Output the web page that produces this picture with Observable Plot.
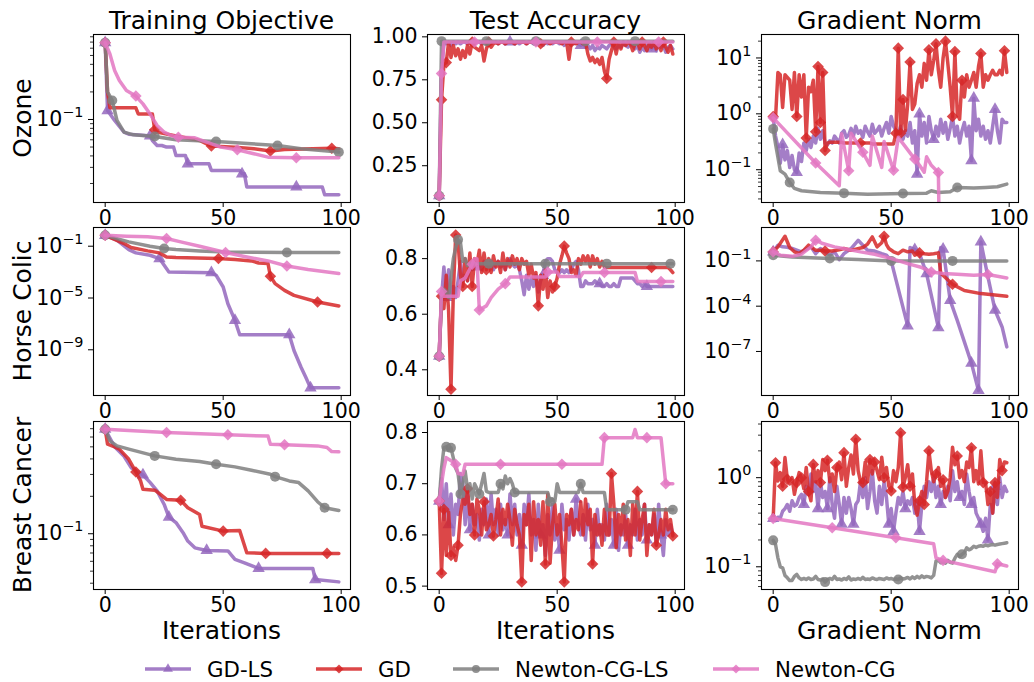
<!DOCTYPE html>
<html><head><meta charset="utf-8">
<script src="https://cdn.jsdelivr.net/npm/d3@7"></script>
<script src="https://cdn.jsdelivr.net/npm/@observablehq/plot@0.6"></script>
<style>
body{margin:0;background:#fff;}
#fig{position:relative;width:1034px;height:682px;background:#fff;overflow:hidden;font-family:"DejaVu Sans",sans-serif;color:#000}
#fig svg.panel{position:absolute}
#overlay{position:absolute;left:0;top:0;pointer-events:none}
</style></head>
<body><div id="fig"></div>
<script>
// ---------- labels ----------
const methodNames = ["GD-LS", "GD", "Newton-CG-LS", "Newton-CG"];
const colTitles = ["Training Objective", "Test Accuracy", "Gradient Norm"];
const rowLabels = ["Ozone", "Horse Colic", "Breast Cancer"];
const xLabels = ["Iterations", "Iterations", "Gradient Norm"];
const xTicks = [0, 50, 100];

// ---------- Ozone ----------
const ozObjGDLS = [[0,0.69,1],[1,0.125,1],[4,0.0975],[8,0.0727],[10,0.069],[17,0.0669],[19,0.066,1],[20,0.059],[22,0.052],[24,0.052],[26,0.0499],[29,0.0499],[30,0.0405],[34,0.0405],[35,0.0328,1],[44,0.0328],[45,0.0278],[57,0.0278],[58,0.0255,1],[59,0.0255],[60,0.0183],[81,0.0183,1],[92,0.0183],[93,0.0151],[99,0.0151]];
const ozObjGD = [[0,0.69,1],[1,0.2],[2,0.134],[13,0.134],[14,0.115],[20,0.115],[21,0.077,1],[22,0.0727],[29,0.0669],[33,0.0641],[40,0.059],[45,0.0512,1],[55,0.0499],[63,0.0479],[70,0.0452,1],[76,0.0471],[96,0.0486,1],[99,0.0479]];
const ozObjNCGLS = [[0,0.69,1],[1,0.2],[3,0.161,1],[5,0.0975],[8,0.0727],[12,0.068],[21,0.0653,1],[30,0.06],[47,0.0575,1],[62,0.0543],[73,0.052,1],[83,0.0479],[99,0.044,1]];
const ozObjNCG = [[0,0.69,1],[2,0.52],[4,0.343],[6,0.266],[9,0.207],[13,0.18,1],[16,0.148],[19,0.115],[22,0.086],[25,0.0727],[28,0.0669],[31,0.0641,1],[38,0.063],[43,0.0566],[49,0.0499],[56,0.0467,1],[63,0.0422],[69,0.0388],[81,0.0382,1],[99,0.0382]];

const ozAccGDLS = [0.075,0.8,0.96,
 0.96,0.97,0.95,0.97,0.96,0.97,0.96,0.97,0.97,0.96,0.97,0.97,0.96,0.97,0.97,0.96,0.97,0.96,
 0.97,0.96,0.97,0.97,0.96,0.97,0.97,0.96,0.97,0.97,0.97,0.96,0.97,0.96,0.97,0.97,0.96,0.97,0.97,0.96,
 0.97,0.96,0.97,0.95,0.97,0.96,0.97,0.96,0.97,0.97,0.96,0.97,0.95,0.97,0.96,0.97,0.96,0.97,0.96,0.95,
 0.96,0.94,0.95,0.93,0.95,0.92,0.94,0.93,0.95,0.94,0.93,0.95,0.96,0.94,0.93,0.95,0.94,0.96,0.95,0.94,
 0.96,0.95,0.93,0.95,0.91,0.94,0.92,0.95,0.96,0.93,0.95,0.92,0.96,0.94,0.95,0.91,0.94,0.95,0.93];
const ozAccGDLSMarks = [0,30,60,90];
const ozAccGD = [0.075,0.634,0.84,0.85,0.97,0.88,0.95,0.89,0.93,0.87,0.92,0.88,0.95,0.9,0.97,0.94,0.93,0.92,0.95,0.86,0.93,0.97,0.94,0.96,0.97,0.96,0.97,
 0.97,0.96,0.97,0.97,0.97,0.96,0.97,0.97,0.97,0.97,0.96,0.97,0.97,0.97,0.97,0.97,0.96,0.97,0.97,0.97,0.96,0.97,0.97,0.97,0.97,0.96,0.97,0.97,
 0.87,0.97,0.97,0.96,0.97,0.97,0.96,0.97,0.9,0.86,0.88,0.85,0.87,0.84,0.88,0.8,0.757,0.87,0.92,0.97,0.9,0.97,0.93,0.97,0.95,0.97,
 0.96,0.92,0.96,0.97,0.93,0.97,0.95,0.92,0.96,0.94,0.97,0.93,0.96,0.92,0.97,0.94,0.91,0.95,0.9];
const ozAccGDMarks = [0,1,3,14,21,43,56,71,74,86,95];
const ozAccNCGLS = [[0,0.075,1],[1,0.975,1],[20,0.975,1],[41,0.975,1],[62,0.975,1],[83,0.975,1],[99,0.975]];
const ozAccNCG = [[0,0.075,1],[1,0.786,1],[2,0.97],[15,0.97,1],[41,0.97,1],[67,0.97,1],[93,0.97,1],[99,0.97]];

const ozGradGDLS = [0.85,0.4,0.26,0.13,0.28,0.15,0.22,0.11,0.18,0.1,0.089,
 0.2,0.14,0.3,0.22,0.35,0.25,0.4,0.3,0.55,0.35,0.5,0.3,
 0.28,0.33,0.3,0.4,0.35,0.3,0.45,0.5,0.38,0.42,0.55,0.4,0.6,0.45,0.5,0.38,0.6,0.48,0.4,0.65,0.45,0.5,0.6,0.4,0.55,0.7,0.45,0.9,0.6,0.5,
 0.45,0.6,0.35,0.5,0.4,0.7,0.3,0.5,0.083,1.0,0.4,0.7,0.3,0.9,0.5,0.35,0.6,0.4,0.8,0.45,0.7,0.35,0.55,0.9,0.4,0.6,0.3,0.5,0.7,0.4,0.6,0.145,1.9,0.5,0.8,0.4,0.6,0.35,0.5,0.3,0.6,1.2,0.5,0.3,0.8,0.7,
 0.7];
const ozGradGDLSMarks = [4,10,61,62,68,84,85,94];
const ozGradGD = [0.9,0.85,5.5,5,1.3,5,4.5,4,1.2,5.5,0.9,5,2,5,0.37,3,2.5,4,0.48,7,0.7,5.5,0.22,0.3,
 0.31,0.31,0.31,0.31,0.31,0.31,0.3,0.3,0.3,0.3,0.3,0.3,0.3,0.3,0.3,0.3,0.3,0.3,0.29,0.29,0.29,0.29,0.29,0.29,0.29,0.29,0.29,0.29,
 0.45,15,0.45,1.8,0.5,1.5,8.5,1.2,1.5,3.5,5,3,8,4,14,5,9,18,6,3,10,20,8,3,0.9,13,1,0.8,4,2,5,3,4,5.5,3,7,12,3,5,4,5,6,5,5,6,5,13.5,5.5];
const ozGradGDMarks = [0,10,14,18,19,20,21,22,37,52,53,54,55,58,66,69,73,76,77,80,88,98];
const ozGradNCGLS = [[0,0.538,1],[1,0.289],[2,0.167],[3,0.096],[5,0.0836],[7,0.0592,1],[9,0.0462],[12,0.042],[20,0.0392],[30,0.0381,1],[40,0.0365],[55,0.0376,1],[65,0.0381],[67,0.042],[70,0.0392],[75,0.0405],[78,0.0482,1],[85,0.047],[90,0.0482],[95,0.0495],[99,0.0553]];
const ozGradNCG = [[0,0.847,1],[18,0.132,1],[28,0.0517],[29,0.44],[32,0.096,1],[33,0.45],[38,0.205,1],[41,0.12],[42,0.4],[46,0.11],[47,0.32],[51,0.098,1],[53,0.38],[60,0.155,1],[62,0.12],[64,0.09],[65,0.17],[67,0.12],[70,0.0895,1],[71,0.0001]];

// ---------- Horse Colic ----------
const hcObjGDLS = [[0,0.693,1],[5,0.29],[10,0.055],[13,0.0305],[19,0.0201],[23,0.0111,1],[27,0.00103],[45,0.00091,1],[47,0.00057],[50,7.1e-5],[52,3.6e-6],[55,1.87e-7,1],[57,1.45e-8],[78,1.45e-8,1],[80,8.9e-10],[83,4.5e-11],[85,7.6e-12],[87,1.15e-12,1],[99,1.15e-12]];
const hcObjGD = [[0,0.693,1],[4,0.33],[8,0.16],[11,0.079],[18,0.0436],[23,0.0305],[26,0.0149],[30,0.0133],[48,0.0111,1],[55,0.0093],[62,0.0073],[65,0.0051],[69,0.00455],[70,4.8e-4,1],[72,1.29e-4],[76,3.9e-5],[80,1.6e-5],[90,4.9e-6,1],[99,2.4e-6]];
const hcObjNCGLS = [[0,0.693,1],[5,0.39],[10,0.216],[19,0.1],[25,0.066,1],[30,0.055],[40,0.0436],[51,0.0364],[77,0.0323,1],[99,0.0323]];
const hcObjNCG = [[0,0.693,1],[9,0.59],[18,0.53],[26,0.39,1],[32,0.216],[40,0.1],[51,0.0323,1],[60,0.0149],[69,0.0073],[77,0.003,1],[86,0.0016],[99,7.7e-4]];

const hcAccGDLS = [0.449,0.66,0.77,0.66,0.76,0.66,0.70,0.66,0.72,0.79,
 0.72,0.74,0.72,0.78,0.76,0.79,0.77,0.78,0.76,0.79,
 0.78,0.77,0.79,0.76,0.78,0.79,0.77,0.78,0.76,0.79,
 0.80,0.78,0.77,0.78,0.76,0.72,0.67,0.74,0.69,0.73,
 0.70,0.74,0.68,0.72,0.74,0.79,0.80,0.80,0.79,0.76,
 0.75,0.75,0.76,0.75,0.76,0.75,0.76,0.78,0.79,0.76,
 0.70,0.70,0.72,0.71,0.71,0.71,0.72,0.71,0.71,0.70,
 0.70,0.71,0.70,0.70,0.71,0.70,0.70,0.73,0.73,0.73,
 0.73,0.73,0.73,0.72,0.71,0.71,0.70,0.71,0.70,0.70,
 0.70,0.70,0.70,0.70,0.70,0.70,0.70,0.70,0.70,0.70];
const hcAccGDLSMarks = [0,3,16,44,68,88];
const hcAccGD = [0.449,0.665,0.62,0.74,0.61,0.33,0.68,0.885,0.86,0.74,
 0.70,0.80,0.72,0.82,0.70,0.80,0.78,0.83,0.75,0.82,
 0.76,0.80,0.75,0.81,0.77,0.79,0.75,0.82,0.76,0.80,
 0.77,0.81,0.78,0.80,0.76,0.80,0.78,0.79,0.74,0.78,
 0.73,0.75,0.63,0.74,0.69,0.76,0.66,0.72,0.68,0.70,
 0.73,0.78,0.81,0.845,0.82,0.80,0.75,0.76,0.74,0.80,
 0.78,0.81,0.79,0.81,0.77,0.81,0.78,0.80,0.77,0.79,
 0.77,0.768,0.768,0.768,0.768,0.768,0.768,0.768,0.768,0.768,
 0.768,0.768,0.768,0.768,0.768,0.768,0.768,0.768,0.768,0.768,
 0.768,0.768,0.768,0.768,0.768,0.768,0.768,0.768,0.76,0.75];
const hcAccGDMarks = [0,1,5,7,10,14,20,42,49,53,90];
const hcAccNCGLS = [[0,0.449,1],[1,0.67],[2,0.69],[3,0.68],[4,0.66],[5,0.73],[6,0.80],[7,0.84],[8,0.868,1],[9,0.86],[10,0.79],[11,0.80],[12,0.775],[13,0.782],[21,0.782,1],[45,0.782,1],[71,0.782,1],[98,0.782,1],[99,0.782]];
const hcAccNCG = [[0,0.449,1],[1,0.682,1],[2,0.665],[8,0.665],[9,0.72],[11,0.73],[14,0.78,1],[15,0.8],[16,0.8],[17,0.615,1],[20,0.63],[22,0.66],[25,0.69],[28,0.71,1],[30,0.734],[45,0.734],[46,0.752,1],[50,0.752],[51,0.736],[60,0.736],[61,0.75],[70,0.75,1],[83,0.75],[84,0.718],[94,0.718,1],[99,0.718]];

const hcGradGDLS = [[0,0.395,1],[2,1.1],[4,0.85],[6,0.8],[8,0.66],[10,0.51],[12,0.4],[14,0.6],[16,0.85],[18,0.3],[20,0.66],[22,0.4],[24,0.24],[26,0.4],[28,0.12],[30,0.3],[33,0.66],[36,2.3],[38,1.1],[40,0.51],[43,0.45],[46,0.3],[48,0.24],[50,0.1],[57,5e-6,1],[58,0.77],[60,0.56,1],[62,0.3],[65,0.0145,1],[70,3.8e-6,1],[71,0.77],[72,0.6,1],[75,2.45e-4,1],[78,1.15e-5],[84,1.7e-8,1],[87,2.6e-10,1],[88,1.8,1],[91,8.7e-3],[94,5.4e-5,1],[97,4.2e-6],[99,2e-7]];
const hcGradGD = [[0,0.395,1],[2,0.85],[5,4.3],[7,0.77],[9,0.4],[11,0.31],[13,0.51],[15,1.1],[17,0.66],[18,0.5],[20,0.51],[22,0.45,1],[25,0.45],[28,0.55],[30,0.66],[33,0.51],[35,0.6],[38,0.77],[40,1.3],[42,3.9],[44,0.85],[46,1.6],[47,4.3,1],[48,1.2],[49,0.66],[51,0.4],[53,0.3],[55,0.51],[57,0.4],[59,0.45],[60,0.24],[62,0.34,1],[64,0.3],[66,0.28],[68,0.3],[70,0.34],[71,0.015],[76,0.0028,1],[81,0.0011],[88,6.8e-4],[99,4.5e-4]];
const hcGradNCGLS = [[0,0.238,1],[8,0.184],[24,0.143,1],[36,0.123],[50,0.1,1],[76,0.1,1],[99,0.1]];
const hcGradNCG = [[0,0.395,1],[3,0.238],[8,0.2],[12,0.277],[16,0.85],[18,2.35,1],[21,1.41],[26,0.85],[32,0.565],[37,0.395],[43,0.277],[50,0.143],[57,0.0665],[63,0.0362],[67,0.0186,1],[72,0.0144],[78,0.013],[85,0.0112],[91,0.0124,1],[99,0.0074]];

// ---------- Breast Cancer ----------
const bcObjGDLS = [[0,0.693,1],[4,0.5],[8,0.42],[11,0.34],[16,0.297,1],[19,0.259],[22,0.221],[25,0.172],[27,0.136,1],[30,0.123],[33,0.102],[35,0.0873],[38,0.077],[43,0.0734,1],[52,0.0727],[55,0.0621],[59,0.0584],[65,0.0525,1],[88,0.0525],[89,0.0428,1],[99,0.041]];
const bcObjGD = [[0,0.693,1],[1,0.525],[4,0.5],[6,0.479],[10,0.397],[13,0.314,1],[15,0.266],[16,0.228],[21,0.224],[23,0.21],[26,0.189],[32,0.186,1],[35,0.162],[40,0.143],[41,0.115],[50,0.105,1],[57,0.106],[60,0.0703],[68,0.0695,1],[94,0.0695,1],[99,0.0695]];
const bcObjNCGLS = [[0,0.693,1],[2,0.558],[5,0.509],[10,0.479],[21,0.423,1],[30,0.397],[40,0.381],[47,0.362,1],[55,0.345],[62,0.324],[70,0.301],[72,0.288,1],[78,0.266],[82,0.258],[86,0.221],[90,0.181],[93,0.162,1],[99,0.154]];
const bcObjNCG = [[0,0.693,1],[26,0.653,1],[52,0.625,1],[69,0.61],[70,0.525],[76,0.519,1],[90,0.509],[94,0.494],[96,0.458],[99,0.456]];

const bcAccGDLS = [0.666,0.71,0.63,0.70,0.62,0.68,0.60,0.66,0.64,0.72,
 0.70,0.62,0.69,0.61,0.66,0.62,0.64,0.59,0.65,0.62,
 0.67,0.60,0.68,0.62,0.65,0.60,0.66,0.61,0.63,0.60,
 0.68,0.62,0.66,0.60,0.64,0.58,0.66,0.62,0.68,0.60,
 0.63,0.57,0.66,0.60,0.62,0.56,0.64,0.60,0.66,0.59,
 0.62,0.57,0.66,0.61,0.63,0.59,0.65,0.60,0.67,0.62,
 0.60,0.64,0.59,0.66,0.61,0.63,0.58,0.65,0.60,0.62,
 0.59,0.66,0.60,0.63,0.58,0.65,0.57,0.62,0.60,0.64,
 0.58,0.62,0.60,0.65,0.59,0.63,0.60,0.66,0.59,0.62,
 0.60,0.64,0.58,0.66,0.60,0.56,0.63,0.60,0.62,0.60];
const bcAccGDLSMarks = [0,4,13,21,29,35,43,51,58,66,74,80,88,94];
const bcAccGD = [0.666,0.525,0.65,0.56,0.645,0.56,0.575,0.55,0.58,0.64,
 0.67,0.66,0.69,0.64,0.66,0.60,0.67,0.65,0.60,0.665,
 0.61,0.62,0.64,0.598,0.63,0.67,0.60,0.65,0.62,0.66,
 0.63,0.58,0.65,0.62,0.60,0.508,0.64,0.62,0.66,0.55,
 0.665,0.60,0.63,0.58,0.665,0.543,0.68,0.545,0.62,0.66,
 0.60,0.64,0.58,0.508,0.64,0.62,0.65,0.60,0.63,0.61,
 0.665,0.60,0.67,0.62,0.65,0.543,0.64,0.60,0.62,0.58,
 0.65,0.60,0.60,0.72,0.66,0.575,0.64,0.60,0.66,0.59,
 0.63,0.56,0.66,0.60,0.685,0.59,0.63,0.66,0.56,0.62,
 0.60,0.65,0.58,0.60,0.63,0.60,0.65,0.61,0.63,0.598];
const bcAccGDMarks = [0,1,2,5,8,12,15,19,23,35,45,53,65,73,84,92,99];
const bcAccNCGLS = [0.666,0.73,0.77,0.772,0.765,0.77,0.75,0.73,0.72,0.68,
 0.70,0.725,0.69,0.70,0.67,0.70,0.69,0.68,0.70,0.72,
 0.685,0.683,0.683,0.683,0.683,0.683,0.70,0.69,0.715,0.70,
 0.71,0.70,0.683,0.683,0.683,0.683,0.683,0.683,0.683,0.683,
 0.683,0.683,0.683,0.683,0.683,0.683,0.683,0.665,0.67,0.665,
 0.70,0.683,0.683,0.683,0.683,0.683,0.683,0.683,0.683,0.683,
 0.70,0.683,0.683,0.683,0.683,0.683,0.683,0.683,0.683,0.683,
 0.683,0.649,0.649,0.649,0.649,0.649,0.649,0.649,0.649,0.649,
 0.665,0.665,0.665,0.665,0.665,0.649,0.649,0.649,0.649,0.649,
 0.649,0.649,0.649,0.649,0.649,0.649,0.649,0.649,0.649,0.649];
const bcAccNCGLSMarks = [3,5,9,17,26,32,47,60,79,99];
const bcAccNCG = [[0,0.666,1],[1,0.70],[2,0.73],[3,0.751],[5,0.745],[7,0.738,1],[8,0.72],[10,0.718],[11,0.738],[26,0.738,1],[52,0.738,1],[69,0.738],[70,0.79,1],[82,0.79],[83,0.806],[84,0.79],[88,0.79,1],[94,0.79],[96,0.70,1],[99,0.70]];

const bcGradGDLS = [0.35,0.33,0.36,0.35,0.42,0.45,0.5,0.42,0.55,0.48,
 0.5,0.6,0.65,0.5,0.8,0.65,1.1,0.7,0.9,0.45,
 0.9,0.6,0.7,0.45,1.0,0.5,0.35,0.8,0.5,0.3,
 0.6,0.4,0.6,0.45,0.3,0.5,0.55,0.9,0.6,1.0,
 0.45,0.7,1.2,0.55,0.4,0.8,0.5,0.9,0.6,0.3,
 0.45,0.25,0.4,0.6,0.5,0.7,0.45,0.55,0.5,0.6,
 0.4,0.55,0.25,0.5,0.8,0.6,0.9,0.7,1.0,0.6,
 0.8,0.5,0.7,0.6,0.8,0.55,1.2,0.7,0.9,0.6,
 0.7,0.5,1.1,0.7,0.5,0.6,0.4,0.35,0.3,0.25,
 0.35,0.2,0.5,0.4,0.8,0.5,1.0,0.6,0.8,0.7];
const bcGradGDLSMarks = [0,13,19,23,29,34,49,51,56,62,71,79,84,88,91,94];
const bcGradGD = [0.35,1.47,0.92,1.14,0.8,1.68,0.96,0.85,1.0,0.65,
 0.88,1.14,1.0,0.75,1.3,0.7,0.55,1.41,0.9,1.2,
 0.88,1.6,1.2,1.57,0.9,1.1,0.7,1.3,1.5,0.95,
 1.91,0.8,1.3,1.8,1.1,2.7,1.2,0.9,0.88,1.5,
 0.9,1.6,1.1,1.5,1.2,0.95,1.7,1.0,1.3,0.8,
 0.71,1.2,0.9,1.3,3.2,0.78,1.0,1.4,0.8,1.1,
 0.5,0.38,0.55,0.7,0.5,0.9,2.0,1.2,0.9,1.1,
 1.3,0.8,0.95,0.6,0.7,1.0,2.2,1.4,1.75,1.0,
 1.2,0.9,1.5,1.3,2.17,0.9,1.2,0.85,2.0,0.88,
 0.88,0.5,0.7,0.4,0.88,0.6,1.6,1.2,1.5,1.47];
const bcGradGDMarks = [1,4,6,10,12,15,17,20,23,27,30,35,38,41,43,47,50,54,55,58,62,64,66,69,72,78,84,89,92,94,97];
const bcGradNCGLS = [0.198,0.178,0.126,0.1,0.0975,0.08,0.0752,0.07,0.0702,0.078,
 0.082,0.075,0.072,0.074,0.072,0.075,0.072,0.073,0.078,0.072,
 0.071,0.073,0.0673,0.072,0.074,0.072,0.078,0.072,0.073,0.071,
 0.074,0.072,0.077,0.071,0.073,0.072,0.074,0.072,0.076,0.072,
 0.073,0.072,0.075,0.073,0.072,0.074,0.073,0.072,0.075,0.073,
 0.074,0.072,0.073,0.072,0.075,0.073,0.074,0.076,0.073,0.077,
 0.074,0.078,0.075,0.079,0.076,0.078,0.077,0.075,0.08,0.116,
 0.118,0.111,0.113,0.11,0.118,0.112,0.11,0.125,0.138,0.13,
 0.138,0.144,0.163,0.155,0.16,0.17,0.165,0.17,0.172,0.17,
 0.175,0.172,0.176,0.178,0.175,0.178,0.18,0.182,0.184,0.186];
const bcGradNCGLSMarks = [0,22,53,80];
const bcGradNCG = [[0,0.349,1],[25,0.274,1],[52,0.212,1],[68,0.181],[69,0.126],[72,0.118,1],[94,0.088],[95,0.108,1],[99,0.102]];

// ---------- ticks ----------
const accTicksOz = [0.25, 0.5, 0.75, 1.0];
const accTicksHc = [0.4, 0.6, 0.8];
const accTicksBc = [0.5, 0.6, 0.7, 0.8];

// ---------- styles ----------
const COLORS = ["#9467bd", "#d62728", "#7f7f7f", "#e377c2"];
const SYMBOLS = ["triangle", "diamond2", "circle", "diamond2"];
const RADII = [4.6, 5.2, 5.0, 5.2];
const FONT = "DejaVu Sans";
const frameLeft = [93, 427, 761];
const frameTop = [34, 227, 421];
const FW = 257, FH = 168;
const ML = 92, MR = 8, MT = 8, MB = 42;
const xDomain = [-4.95, 103.95];

const panels = [
  {r:0,c:0,type:"log",domain:[0.0124,0.847],major:[0.1],series:[[ozObjGDLS],[ozObjGD],[ozObjNCGLS],[ozObjNCG]]},
  {r:0,c:1,type:"linear",domain:[0.036,1.0136],major:accTicksOz,fmt:".2f",series:[[ozAccGDLS,ozAccGDLSMarks],[ozAccGD,ozAccGDMarks],[ozAccNCGLS],[ozAccNCG]]},
  {r:0,c:2,type:"log",domain:[0.0259,26.3],major:[0.1,1,10],series:[[ozGradGDLS,ozGradGDLSMarks],[ozGradGD,ozGradGDMarks],[ozGradNCGLS],[ozGradNCG]]},
  {r:1,c:0,type:"log",domain:[2.95e-13,2.79],major:[1e-9,1e-5,1e-1],noMinor:true,series:[[hcObjGDLS],[hcObjGD],[hcObjNCGLS],[hcObjNCG]]},
  {r:1,c:1,type:"linear",domain:[0.3075,0.912],major:accTicksHc,fmt:".1f",series:[[hcAccGDLS,hcAccGDLSMarks],[hcAccGD,hcAccGDMarks],[hcAccNCGLS],[hcAccNCG]]},
  {r:1,c:2,type:"log",domain:[1.21e-10,16.3],major:[1e-7,1e-4,1e-1],noMinor:true,series:[[hcGradGDLS],[hcGradGD],[hcGradNCGLS],[hcGradNCG]]},
  {r:2,c:0,type:"log",domain:[0.0356,0.7998],major:[0.1],series:[[bcObjGDLS],[bcObjGD],[bcObjNCGLS],[bcObjNCG]]},
  {r:2,c:1,type:"linear",domain:[0.4934,0.8215],major:accTicksBc,fmt:".1f",series:[[bcAccGDLS,bcAccGDLSMarks],[bcAccGD,bcAccGDMarks],[bcAccNCGLS,bcAccNCGLSMarks],[bcAccNCG]]},
  {r:2,c:2,type:"log",domain:[0.0556,4.27],major:[0.1,1],series:[[bcGradGDLS,bcGradGDLSMarks],[bcGradGD,bcGradGDMarks],[bcGradNCGLS,bcGradNCGLSMarks],[bcGradNCG]]}
];

function rowsOf(arr, marks) {
  if (typeof arr[0] === "number") return arr.map((v, i) => ({x: i, y: v, m: marks ? marks.includes(i) : false}));
  return arr.map(p => ({x: p[0], y: p[1], m: p[2] === 1}));
}
function minorTicks([lo, hi]) {
  const t = [];
  for (let e = Math.floor(Math.log10(lo)); e <= Math.ceil(Math.log10(hi)); e++)
    for (let k = 2; k <= 9; k++) { const v = k * Math.pow(10, e); if (v >= lo && v <= hi) t.push(v); }
  return t;
}

const fig = document.getElementById("fig");

for (const p of panels) {
  const marks = [];
  marks.push(Plot.axisX({ticks: xTicks, tickSize: 5, tickPadding: 3, fontSize: 20.5, tickFormat: d => String(d), label: null}));
  if (p.type === "log") {
    if (!p.noMinor) marks.push(Plot.axisY({ticks: minorTicks(p.domain), tickSize: 3, strokeWidth: 0.8, tickFormat: () => "", label: null}));
    marks.push(Plot.axisY({ticks: p.major, tickSize: 5, tickPadding: 5, fontSize: 20.5, tickFormat: d => "10^" + Math.round(Math.log10(d)), label: null}));
  } else {
    marks.push(Plot.axisY({ticks: p.major, tickSize: 5, tickPadding: 5, fontSize: 20.5, tickFormat: d3.format(p.fmt), label: null}));
  }
  p.series.forEach(([arr, mk], i) => {
    const rows = rowsOf(arr, mk);
    marks.push(Plot.line(rows, {x: "x", y: "y", stroke: COLORS[i], strokeWidth: 3.5, strokeOpacity: 0.85, clip: true}));
    marks.push(Plot.dot(rows.filter(d => d.m), {x: "x", y: "y", symbol: SYMBOLS[i], r: RADII[i], fill: COLORS[i], fillOpacity: 0.85, stroke: "none", clip: true}));
  });
  marks.push(Plot.frame({stroke: "#000", strokeWidth: 1.1}));
  const svg = Plot.plot({
    width: FW + ML + MR, height: FH + MT + MB,
    marginLeft: ML, marginRight: MR, marginTop: MT, marginBottom: MB,
    x: {domain: xDomain},
    y: {type: p.type, domain: p.domain},
    style: {background: "transparent", fontFamily: FONT, fontSize: "20.5px", color: "#000", overflow: "visible"},
    marks
  });
  svg.classList.add("panel");
  svg.style.left = (frameLeft[p.c] - ML) + "px";
  svg.style.top = (frameTop[p.r] - MT) + "px";
  svg.querySelectorAll("text").forEach(t => {
    const m = /^10\^(-?\d+)$/.exec(t.textContent);
    if (m) {
      t.textContent = "10";
      const ts = document.createElementNS("http://www.w3.org/2000/svg", "tspan");
      ts.setAttribute("dy", "-0.62em");
      ts.setAttribute("font-size", "0.7em");
      ts.textContent = m[1].replace("-", "\u2212");
      t.appendChild(ts);
    }
  });
  fig.appendChild(svg);
}

// ---------- overlay: titles, row labels, x labels, legend ----------
const ov = d3.select(fig).append("svg").attr("id", "overlay").attr("width", 1034).attr("height", 682)
  .attr("font-family", FONT).attr("fill", "#000");
colTitles.forEach((t, c) => ov.append("text").attr("x", frameLeft[c] + FW / 2).attr("y", 29)
  .attr("text-anchor", "middle").attr("font-size", 25).text(t));
rowLabels.forEach((t, r) => ov.append("text")
  .attr("transform", `translate(31,${frameTop[r] + FH / 2}) rotate(-90)`)
  .attr("text-anchor", "middle").attr("font-size", 25).text(t));
xLabels.forEach((t, c) => ov.append("text").attr("x", frameLeft[c] + FW / 2).attr("y", 639)
  .attr("text-anchor", "middle").attr("font-size", 25).text(t));

const legX = [145, 316, 453, 713];
const symD3 = {triangle: d3.symbolTriangle, diamond2: d3.symbolDiamond2, circle: d3.symbolCircle};
methodNames.forEach((name, i) => {
  const g = ov.append("g").attr("transform", `translate(${legX[i]},669)`);
  g.append("line").attr("x1", 0).attr("x2", 46).attr("y1", 0).attr("y2", 0)
    .attr("stroke", COLORS[i]).attr("stroke-width", 3.5).attr("stroke-opacity", 0.85);
  const rr = RADII[i] * 0.8;
  g.append("path").attr("transform", "translate(23,0)")
    .attr("d", d3.symbol(symD3[SYMBOLS[i]], Math.PI * rr * rr)())
    .attr("fill", COLORS[i]).attr("fill-opacity", 0.85);
  g.append("text").attr("x", 62).attr("y", 7.7).attr("font-size", 21.3).text(name);
});
</script></body></html>
